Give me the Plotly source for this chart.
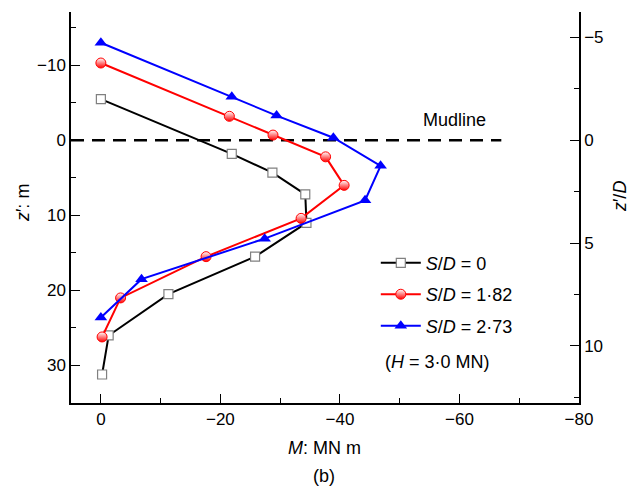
import plotly.graph_objects as go

# ---------------- data ----------------
D_PILE = 2.74  # m, pile diameter used for z'/D axis

m_sd0 = [0, -21.9, -28.7, -34.2, -34.4, -25.8, -11.3, -1.3, -0.2]
z_sd0 = [-5.5, 1.8, 4.3, 7.2, 11.0, 15.5, 20.5, 26.0, 31.2]

m_sd182 = [0, -21.5, -28.8, -37.6, -40.7, -33.5, -17.6, -3.3, -0.2]
z_sd182 = [-10.3, -3.2, -0.7, 2.2, 6.0, 10.4, 15.5, 21.0, 26.2]

m_sd273 = [0, -21.9, -29.4, -38.9, -46.8, -44.2, -27.4, -6.8, 0]
z_sd273 = [-13.0, -5.8, -3.3, -0.35, 3.4, 8.0, 13.1, 18.5, 23.6]

mudline_m = [5, -67]
mudline_z = [0, 0]

x_ticks = [0, -20, -40, -60, -80]
y_ticks = [-10, 0, 10, 20, 30]
y2_ticks = [-5, 0, 5, 10]

FONT = "Liberation Sans, Arial, sans-serif"

W, H = 632, 488
ML, MR, MT, MB = 71, 53, 12, 85


def px_to_paper_x(px):
    return (px - ML) / (W - ML - MR)


def px_to_paper_y(py):
    return (H - MB - py) / (H - MB - MT)


def lab(v):
    return ("−" + str(-v)) if v < 0 else str(v)


fig = go.Figure()

fig.add_trace(go.Scatter(
    x=mudline_m, y=mudline_z, mode="lines", showlegend=False,
    line=dict(color="black", width=2.5, dash="13px,8px"), hoverinfo="skip"))

fig.add_trace(go.Scatter(
    x=m_sd0, y=z_sd0, mode="lines+markers", name="<i>S</i>/<i>D</i> = 0",
    legendgroup="a",
    line=dict(color="black", width=2),
    marker=dict(symbol="square", size=9, color="white",
                line=dict(color="#808080", width=1.2))))

fig.add_trace(go.Scatter(
    x=m_sd182, y=z_sd182, mode="lines+markers", name="<i>S</i>/<i>D</i> = 1·82",
    legendgroup="b",
    line=dict(color="#ff0000", width=2),
    marker=dict(symbol="circle", size=10, color="white",
                gradient=dict(type="vertical", color="#ff0000"),
                line=dict(color="#ff0000", width=1))))

fig.add_trace(go.Scatter(
    x=m_sd273, y=z_sd273, mode="lines+markers", name="<i>S</i>/<i>D</i> = 2·73",
    legendgroup="c",
    line=dict(color="#0000ff", width=2),
    marker=dict(symbol="triangle-up", size=11, color="#0000ff")))

# invisible trace to activate the right axis
fig.add_trace(go.Scatter(x=[None], y=[None], yaxis="y2", showlegend=False))

y_range = [35.0, -17.1]

fig.update_layout(
    width=W, height=H,
    margin=dict(l=ML, r=MR, t=MT, b=MB),
    paper_bgcolor="white", plot_bgcolor="white",
    font=dict(family=FONT, size=17, color="black"),
    xaxis=dict(range=[5, -80], tickvals=x_ticks, ticktext=[lab(v) for v in x_ticks],
               ticks="inside", ticklen=9, tickwidth=1.2, tickcolor="black",
               minor=dict(dtick=10, tick0=0, ticks="inside", ticklen=5, tickcolor="black"),
               showline=True, linecolor="black", linewidth=1.5,
               showgrid=False, zeroline=False, mirror=False),
    yaxis=dict(range=y_range, tickvals=y_ticks, ticktext=[lab(v) for v in y_ticks],
               ticks="inside", ticklen=9, tickwidth=1.2, tickcolor="black",
               minor=dict(dtick=10, tick0=5, ticks="inside", ticklen=5, tickcolor="black"),
               showline=True, linecolor="black", linewidth=1.5,
               showgrid=False, zeroline=False),
    yaxis2=dict(overlaying="y", side="right",
                range=[y_range[0] / D_PILE, y_range[1] / D_PILE],
                tickvals=y2_ticks, ticktext=[lab(v) for v in y2_ticks],
                ticks="inside", ticklen=9, tickwidth=1.2, tickcolor="black",
                minor=dict(dtick=5, tick0=2.5, ticks="inside", ticklen=5, tickcolor="black"),
                showline=True, linecolor="black", linewidth=1.5,
                showgrid=False, zeroline=False),
    legend=dict(x=0.6, y=0.405, xanchor="left", yanchor="top",
                bgcolor="rgba(0,0,0,0)", font=dict(size=18),
                tracegroupgap=5, itemwidth=40),
    showlegend=True,
)

fig.add_annotation(text="Mudline", x=-59.2, y=-2.7, xref="x", yref="y",
                   xanchor="center", yanchor="middle",
                   showarrow=False, font=dict(size=18))

common = dict(xref="paper", yref="paper", showarrow=False,
              xanchor="center", yanchor="middle")
fig.add_annotation(text="(<i>H</i> = 3·0 MN)", x=px_to_paper_x(437), y=px_to_paper_y(362),
                   font=dict(size=18), **common)
fig.add_annotation(text="<i>M</i>: MN m", x=px_to_paper_x(324), y=px_to_paper_y(448),
                   font=dict(size=18), **common)
fig.add_annotation(text="(b)", x=px_to_paper_x(324), y=px_to_paper_y(476),
                   font=dict(size=18), **common)
fig.add_annotation(text="<i>z</i>′: m", x=px_to_paper_x(23), y=px_to_paper_y(203),
                   textangle=-90, font=dict(size=18), **common)
fig.add_annotation(text="<i>z</i>′/<i>D</i>", x=px_to_paper_x(620), y=px_to_paper_y(197),
                   textangle=-90, font=dict(size=18), **common)

fig.write_html("out.html")
